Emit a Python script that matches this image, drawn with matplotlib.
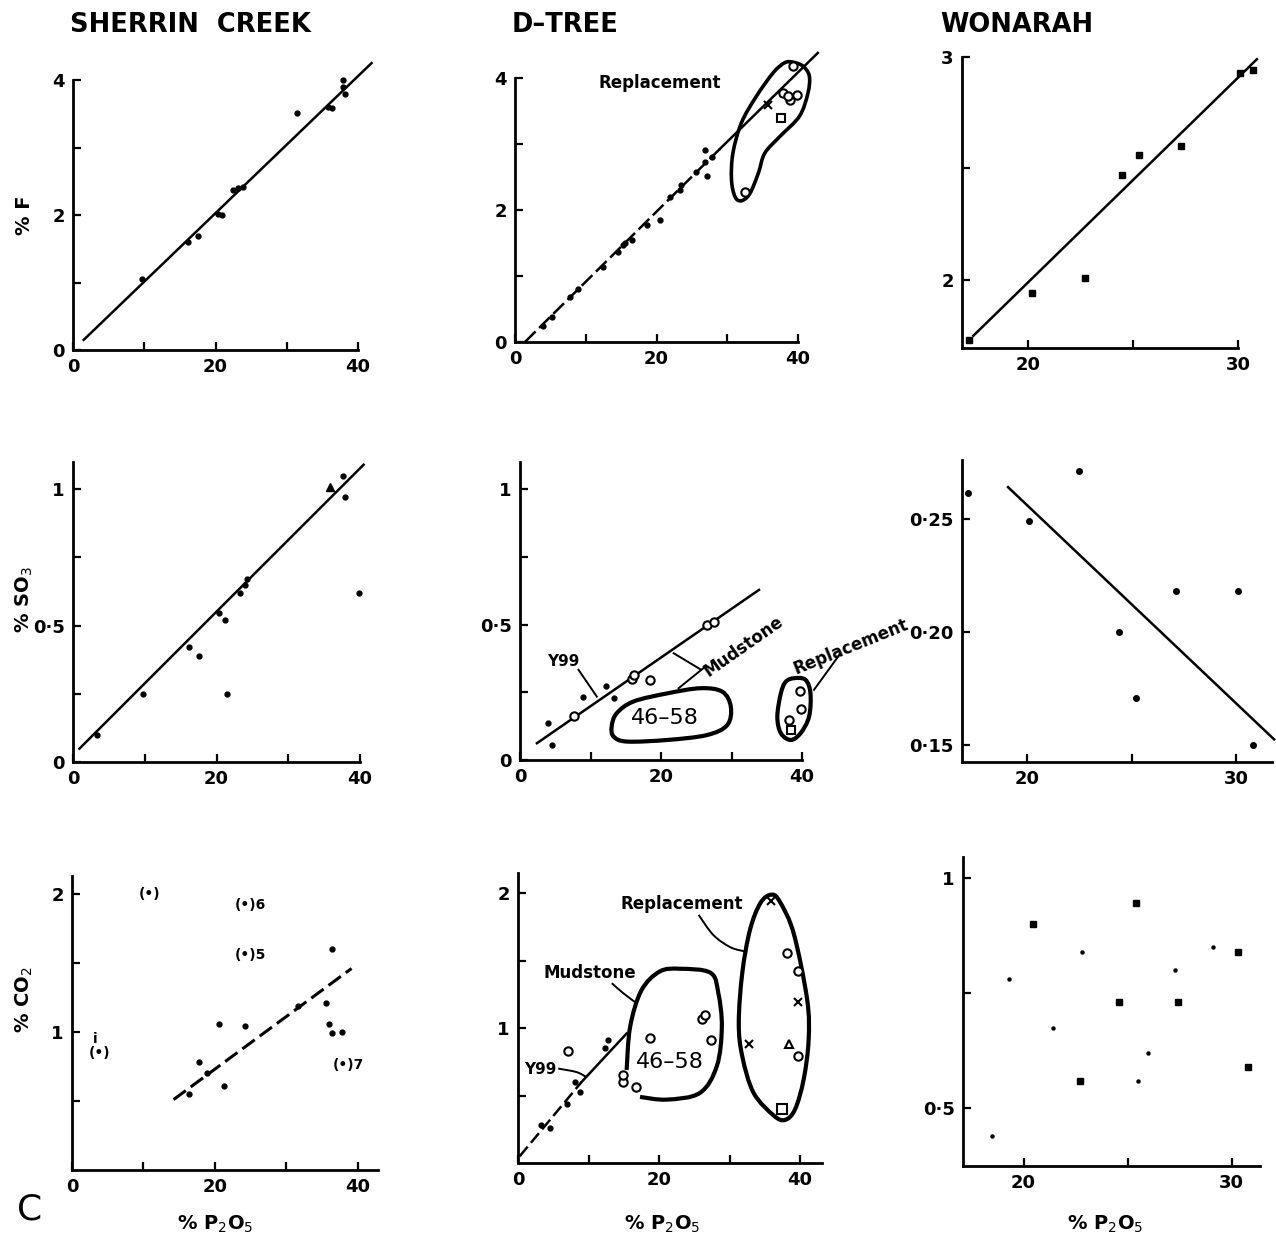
import numpy as np
import matplotlib
matplotlib.use('Agg')
import matplotlib.pyplot as plt
from matplotlib.path import Path
from matplotlib.patches import PathPatch

W, H = 1276, 1238

# ---------------- data ----------------
# Sherrin Creek, % F
sc_f_x = [9.7, 16.2, 17.5, 20.4, 20.9, 22.5, 23.2, 23.9, 31.4, 35.8, 36.3, 37.9, 37.9, 38.2]
sc_f_y = [1.05, 1.60, 1.69, 2.02, 2.00, 2.37, 2.40, 2.42, 3.51, 3.60, 3.58, 4.00, 3.90, 3.80]
sc_f_fit = ([1.5, 41.9], [0.15, 4.25])

# D-Tree, % F
dt_f_x = [4.0, 5.2, 7.8, 8.9, 12.5, 14.6, 15.3, 15.5, 16.5, 18.6, 20.5, 21.9, 23.3, 23.5,
          25.6, 26.8, 27.1, 26.8, 27.9]
dt_f_y = [0.25, 0.38, 0.68, 0.81, 1.14, 1.37, 1.47, 1.50, 1.55, 1.77, 1.85, 2.20, 2.30, 2.38,
          2.58, 2.73, 2.51, 2.91, 2.81]
dt_f_rep_o_x = [39.3, 37.9, 38.8, 39.8, 38.6, 32.5]
dt_f_rep_o_y = [4.18, 3.77, 3.67, 3.75, 3.72, 2.28]
dt_f_rep_x_x = [35.8]
dt_f_rep_x_y = [3.59]
dt_f_rep_sq_x = [37.6]
dt_f_rep_sq_y = [3.39]
dt_f_fit_dash = ([1.4, 29.0], [0.0, 2.93])
dt_f_fit_solid = ([29.0, 42.8], [2.93, 4.38])
dt_f_rep_outline_x = [39.3, 40.7, 41.6, 41.4, 40.2, 37.4, 35.3, 34.4, 33.2, 32.0, 31.1, 30.6,
                      30.8, 32.0, 34.1, 36.5, 38.1]
dt_f_rep_outline_y = [4.24, 4.18, 4.03, 3.77, 3.42, 3.11, 2.86, 2.56, 2.25, 2.14, 2.20, 2.46,
                      2.86, 3.32, 3.72, 4.08, 4.23]

# Wonarah, % F
wo_f_x = [17.2, 20.2, 22.7, 24.5, 25.3, 27.3, 30.1, 30.7]
wo_f_y = [1.73, 1.94, 2.01, 2.47, 2.56, 2.60, 2.93, 2.94]
wo_f_fit = ([17.4, 30.9], [1.75, 2.99])

# Sherrin Creek, % SO3
sc_s_x = [3.3, 9.8, 16.1, 17.5, 20.3, 21.2, 21.4, 23.3, 24.0, 24.2, 37.7, 37.9, 39.8]
sc_s_y = [0.098, 0.25, 0.42, 0.39, 0.545, 0.52, 0.25, 0.62, 0.65, 0.67, 1.05, 0.97, 0.62]
sc_s_tri_x = [35.8]
sc_s_tri_y = [1.01]
sc_s_fit = ([0.9, 40.5], [0.049, 1.09])

# D-Tree, % SO3
dt_s_x = [4.0, 4.5, 9.0, 12.2, 13.3]
dt_s_y = [0.135, 0.055, 0.234, 0.273, 0.228]
dt_s_mud_x = [7.6, 15.9, 16.2, 18.5, 26.5, 27.5]
dt_s_mud_y = [0.163, 0.300, 0.312, 0.295, 0.500, 0.508]
dt_s_rep_x = [39.7, 39.8, 38.2]
dt_s_rep_y = [0.256, 0.187, 0.148]
dt_s_rep_sq_x = [38.5]
dt_s_rep_sq_y = [0.111]
dt_s_fit = ([2.4, 33.9], [0.062, 0.628])
dt_s_blob_x = [13.0, 13.7, 16.1, 20.9, 25.6, 28.7, 29.9, 29.4, 26.5, 20.9, 15.2, 13.3]
dt_s_blob_y = [0.123, 0.172, 0.216, 0.246, 0.265, 0.252, 0.197, 0.129, 0.092, 0.074, 0.068, 0.086]
dt_s_rep_outline_x = [38.9, 40.5, 41.2, 41.0, 39.8, 38.4, 37.0, 36.5, 37.0, 37.7]
dt_s_rep_outline_y = [0.302, 0.296, 0.246, 0.160, 0.099, 0.074, 0.099, 0.160, 0.246, 0.289]

# Wonarah, % SO3
wo_s_x = [17.2, 20.1, 22.5, 24.4, 25.2, 27.1, 30.1, 30.8]
wo_s_y = [0.2615, 0.249, 0.271, 0.200, 0.171, 0.218, 0.218, 0.150]
wo_s_fit = ([19.1, 31.8], [0.264, 0.1526])

# Sherrin Creek, % CO2
sc_c_x = [36.3, 35.5, 36.0, 36.4, 37.7, 20.5, 24.2, 17.7, 21.2, 16.4, 18.9, 31.6]
sc_c_y = [1.60, 1.21, 1.055, 0.995, 1.00, 1.055, 1.04, 0.78, 0.61, 0.55, 0.70, 1.19]
sc_c_fit = ([14.2, 39.1], [0.51, 1.46])
sc_c_par_x = [9.3, 22.8, 22.8, 36.5, 2.3]
sc_c_par_y = [2.0, 1.92, 1.56, 0.76, 0.85]
sc_c_par_lab = ['', '6', '5', '7', '']

# D-Tree, % CO2
dt_c_x = [3.3, 4.5, 6.9, 8.1, 8.8, 12.8, 12.4]
dt_c_y = [0.28, 0.26, 0.44, 0.60, 0.53, 0.91, 0.85]
dt_c_o_x = [7.1, 18.7, 26.1, 26.5, 27.3, 14.9, 14.9, 16.8, 38.1, 39.7, 39.7]
dt_c_o_y = [0.83, 0.93, 1.07, 1.10, 0.91, 0.60, 0.65, 0.56, 1.56, 1.42, 0.79]
dt_c_tri_x = [38.4]
dt_c_tri_y = [0.88]
dt_c_sq_x = [37.4]
dt_c_sq_y = [0.40]
dt_c_x_x = [35.8, 39.7, 32.7]
dt_c_x_y = [1.94, 1.19, 0.88]
dt_c_fit_dash = ([0.24, 9.0], [0.05, 0.60])
dt_c_fit_solid = ([9.0, 15.4], [0.60, 0.96])
dt_c_mud_outline_x = [15.4, 15.9, 17.5, 20.1, 23.0, 27.3, 28.4, 28.9, 28.2, 25.8, 21.1, 17.3]
dt_c_mud_outline_y = [0.69, 1.01, 1.28, 1.42, 1.44, 1.41, 1.26, 1.01, 0.72, 0.52, 0.47, 0.49]
dt_c_rep_outline_x = [36.0, 37.2, 39.1, 41.0, 41.2, 40.5, 39.3, 37.9, 36.3, 33.4, 31.8, 31.3,
                      31.8, 32.9, 34.4]
dt_c_rep_outline_y = [1.99, 1.93, 1.70, 1.21, 0.91, 0.62, 0.40, 0.32, 0.35, 0.52, 0.79, 1.04,
                      1.41, 1.73, 1.93]

# Wonarah, % CO2
wo_c_big_x = [20.45, 25.4, 22.7, 24.6, 27.4, 30.3, 30.8]
wo_c_big_y = [0.90, 0.946, 0.56, 0.73, 0.73, 0.84, 0.59]
wo_c_small_x = [29.1, 27.3, 22.8, 26.0, 25.5, 21.4, 19.3, 18.5]
wo_c_small_y = [0.85, 0.80, 0.84, 0.62, 0.56, 0.675, 0.78, 0.44]

columns = ['SHERRIN  CREEK', 'D\u2013TREE', 'WONARAH']


def rect(l, r, b, t):
    return [l / W, 1 - b / H, (r - l) / W, (b - t) / H]


def style(ax, xlim, ylim, xticks, xlabels, yticks, ylabels):
    ax.set_xlim(xlim)
    ax.set_ylim(ylim)
    ax.patch.set_alpha(0)
    for s in ['top', 'right']:
        ax.spines[s].set_visible(False)
    for s in ['left', 'bottom']:
        ax.spines[s].set_linewidth(2.0)
    ax.set_xticks(xticks)
    ax.set_xticklabels(xlabels)
    ax.set_yticks(yticks)
    ax.set_yticklabels(ylabels)
    ax.tick_params(direction='in', length=6, width=1.6, pad=6, labelsize=13)
    for lbl in ax.get_xticklabels() + ax.get_yticklabels():
        lbl.set_fontweight('bold')


def smooth_path(xs, ys, closed=True):
    pts = np.column_stack([xs, ys]).astype(float)
    n = len(pts)
    verts = [pts[0]]
    codes = [Path.MOVETO]
    for i in range(n if closed else n - 1):
        p0 = pts[(i - 1) % n] if (closed or i > 0) else pts[i]
        p1 = pts[i]
        p2 = pts[(i + 1) % n]
        p3 = pts[(i + 2) % n] if (closed or i + 2 < n) else pts[i + 1]
        verts += [p1 + (p2 - p0) / 6, p2 - (p3 - p1) / 6, p2]
        codes += [Path.CURVE4] * 3
    return Path(verts, codes)


def outline(ax, xs, ys, closed=True, lw=2.6):
    ax.add_patch(PathPatch(smooth_path(xs, ys, closed), fill=False, lw=lw,
                           color='black', clip_on=False))


def dots(ax, x, y, ms=3.5, marker='o'):
    ax.plot(x, y, marker, color='black', ms=ms, clip_on=False)


def opens(ax, x, y, marker='o', ms=6):
    ax.plot(x, y, marker, mfc='white', mec='black', mew=1.5, ms=ms, clip_on=False)


def line(ax, fit, ls='-', lw=1.8):
    ax.plot(fit[0], fit[1], linestyle=ls, color='black', lw=lw, clip_on=False)


fig = plt.figure(figsize=(W / 100, H / 100), dpi=100)

f_ticks = ([0, 10, 20, 30, 40], ['0', '', '20', '', '40'],
           [0, 1, 2, 3, 4], ['0', '', '2', '', '4'])
s_ticks = ([0, 10, 20, 30, 40], ['0', '', '20', '', '40'],
           [0, 0.25, 0.5, 0.75, 1], ['0', '', '0\u00b75', '', '1'])
c_ticks_x = ([0, 10, 20, 30, 40], ['0', '', '20', '', '40'])

# ---- row 1: % F
ax = fig.add_axes(rect(73, 358, 350, 80))
style(ax, (0, 40), (0, 4), *f_ticks)
line(ax, sc_f_fit)
dots(ax, sc_f_x, sc_f_y)

ax = fig.add_axes(rect(515, 798, 342, 78))
style(ax, (0, 40), (0, 4), *f_ticks)
line(ax, dt_f_fit_dash, ls=(0, (6, 2)))
line(ax, dt_f_fit_solid)
dots(ax, dt_f_x, dt_f_y)
opens(ax, dt_f_rep_o_x, dt_f_rep_o_y)
opens(ax, dt_f_rep_sq_x, dt_f_rep_sq_y, marker='s')
ax.plot(dt_f_rep_x_x, dt_f_rep_x_y, 'x', color='black', ms=6, mew=1.5, clip_on=False)
outline(ax, dt_f_rep_outline_x, dt_f_rep_outline_y)
ax.text(20.5, 3.92, 'Replacement', ha='center', va='center', fontsize=12, fontweight='bold')

ax = fig.add_axes(rect(962, 1238, 348, 57))
style(ax, (16.86, 30), (1.695, 3.0), [20, 25, 30], ['20', '', '30'],
      [2, 2.5, 3], ['2', '', '3'])
line(ax, wo_f_fit)
dots(ax, wo_f_x, wo_f_y, ms=4.5, marker='s')

# ---- row 2: % SO3
ax = fig.add_axes(rect(73, 360, 762, 462))
style(ax, (0, 40), (0, 1.10), *s_ticks)
line(ax, sc_s_fit)
dots(ax, sc_s_x, sc_s_y)
ax.plot(sc_s_tri_x, sc_s_tri_y, '^', color='black', ms=6, clip_on=False)

ax = fig.add_axes(rect(520, 802, 760, 462))
style(ax, (0, 40), (0, 1.10), *s_ticks)
line(ax, dt_s_fit)
dots(ax, dt_s_x, dt_s_y)
opens(ax, dt_s_mud_x, dt_s_mud_y)
opens(ax, dt_s_rep_x, dt_s_rep_y)
opens(ax, dt_s_rep_sq_x, dt_s_rep_sq_y, marker='s')
outline(ax, dt_s_blob_x, dt_s_blob_y, lw=3.0)
outline(ax, dt_s_rep_outline_x, dt_s_rep_outline_y, lw=3.0)
ax.text(20.6, 0.154, '46\u201358', ha='center', va='center', fontsize=16)
ax.text(6.2, 0.363, 'Y99', ha='center', va='center', fontsize=11, fontweight='bold')
ax.plot([8.3, 10.9], [0.333, 0.234], color='black', lw=1.4)
ax.plot([21.8, 25.7], [0.394, 0.333], color='black', lw=1.4)
ax.plot([22.5, 26.3], [0.265, 0.345], color='black', lw=1.4)
ax.text(31.7, 0.419, 'Mudstone', ha='center', va='center', fontsize=12,
        fontweight='bold', rotation=35)
ax.plot([41.7, 45.3], [0.259, 0.388], color='black', lw=1.4, clip_on=False)
ax.text(46.9, 0.419, 'Replacement', ha='center', va='center', fontsize=12,
        fontweight='bold', rotation=22, clip_on=False)

ax = fig.add_axes(rect(962, 1272, 762, 460))
style(ax, (16.9, 31.7), (0.1426, 0.276), [20, 25, 30], ['20', '', '30'],
      [0.15, 0.20, 0.25], ['0\u00b715', '0\u00b720', '0\u00b725'])
line(ax, wo_s_fit)
dots(ax, wo_s_x, wo_s_y, ms=4)

# ---- row 3: % CO2
ax = fig.add_axes(rect(72, 378, 1170, 876))
style(ax, (0, 42.8), (0, 2.13), *c_ticks_x, [0.5, 1, 1.5, 2], ['', '1', '', '2'])
line(ax, sc_c_fit, ls=(0, (5, 2)), lw=2.2)
dots(ax, sc_c_x, sc_c_y)
for x, y, lab in zip(sc_c_par_x, sc_c_par_y, sc_c_par_lab):
    ax.text(x, y, '(\u2022)' + lab, ha='left', va='center', fontsize=10, fontweight='bold')
ax.text(3.3, 0.95, 'i', ha='center', va='center', fontsize=10, fontweight='bold')

ax = fig.add_axes(rect(518, 822, 1163, 873))
style(ax, (0, 43.1), (0, 2.15), *c_ticks_x, [0.5, 1, 1.5, 2], ['', '1', '', '2'])
line(ax, dt_c_fit_dash, ls=(0, (5, 2)))
line(ax, dt_c_fit_solid)
dots(ax, dt_c_x, dt_c_y)
opens(ax, dt_c_o_x, dt_c_o_y)
opens(ax, dt_c_sq_x, dt_c_sq_y, marker='s', ms=7)
opens(ax, dt_c_tri_x, dt_c_tri_y, marker='^')
ax.plot(dt_c_x_x, dt_c_x_y, 'x', color='black', ms=6, mew=1.5, clip_on=False)
outline(ax, dt_c_mud_outline_x, dt_c_mud_outline_y, closed=False, lw=3.0)
outline(ax, dt_c_rep_outline_x, dt_c_rep_outline_y, lw=3.0)
ax.text(21.6, 0.75, '46\u201358', ha='center', va='center', fontsize=16)
ax.text(3.1, 0.69, 'Y99', ha='center', va='center', fontsize=11, fontweight='bold')
outline(ax, [5.7, 8.3, 9.7], [0.70, 0.674, 0.637], closed=False, lw=1.4)
ax.text(10.2, 1.41, 'Mudstone', ha='center', va='center', fontsize=12, fontweight='bold')
outline(ax, [13.3, 14.9, 16.8], [1.333, 1.26, 1.185], closed=False, lw=1.4)
ax.text(23.2, 1.92, 'Replacement', ha='center', va='center', fontsize=12, fontweight='bold')
outline(ax, [25.6, 27.7, 30.1, 32.2], [1.84, 1.69, 1.60, 1.568], closed=False, lw=1.4)

ax = fig.add_axes(rect(963, 1260, 1166, 857))
style(ax, (17.09, 31.36), (0.375, 1.045), [20, 25, 30], ['20', '', '30'],
      [0.5, 0.75, 1], ['0\u00b75', '', '1'])
dots(ax, wo_c_big_x, wo_c_big_y, ms=4.5, marker='s')
dots(ax, wo_c_small_x, wo_c_small_y, ms=2.2)

# ---- titles and labels
for x, t in zip([70, 512, 940], columns):
    fig.text(x / W, 1 - 25 / H, t, ha='left', va='center', fontsize=18.5, fontweight='bold')

for y, t in zip([215, 600, 1000], ['% F', r'% SO$_3$', r'% CO$_2$']):
    fig.text(24 / W, 1 - y / H, t, ha='center', va='center', rotation=90,
             fontsize=14, fontweight='bold')
for x in [215, 662, 1105]:
    fig.text(x / W, 1 - 1224 / H, r'% P$_2$O$_5$', ha='center', va='center',
             fontsize=14, fontweight='bold')
fig.text(30 / W, 1 - 1210 / H, 'C', ha='center', va='center', fontsize=26)

fig.savefig('out.png', dpi=100)
